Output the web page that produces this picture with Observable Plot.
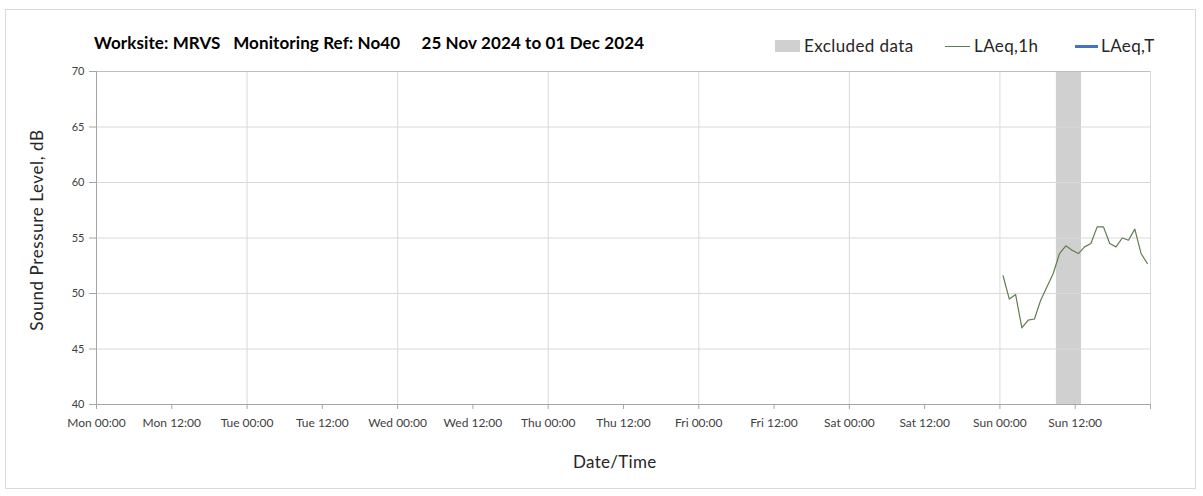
<!DOCTYPE html>
<html>
<head>
<meta charset="utf-8">
<script src="https://cdn.jsdelivr.net/npm/d3@7"></script>
<script src="https://cdn.jsdelivr.net/npm/@observablehq/plot@0.6"></script>
<style>
  html, body { margin: 0; padding: 0; background: #fff; }
  #wrap { position: relative; width: 1203px; height: 496px; overflow: hidden; font-family: Lato, "Open Sans", sans-serif; }
  #frame { position: absolute; left: 5px; top: 9px; width: 1191px; height: 480px; border: 1px solid #d9d9d9; box-sizing: border-box; }
  #title { position: absolute; left: 94px; top: 32px; font-size: 17px; letter-spacing: 0.1px; font-weight: bold; color: #000; white-space: pre; }
  .leg { position: absolute; top: 35px; font-size: 17px; letter-spacing: 0.4px; color: #262626; white-space: nowrap; }
  .sw { position: absolute; }
  #chart { position: absolute; left: 0; top: 0; }
  #xlabel { position: absolute; top: 451px; left: 573px; font-size: 17px; letter-spacing: 0.3px; color: #262626; }
  #ylabel { position: absolute; left: 36px; top: 230px; transform: translate(-50%, -50%) rotate(-90deg); font-size: 17px; letter-spacing: 0.6px; color: #262626; white-space: nowrap; }
</style>
</head>
<body>
<div id="wrap">
  <div id="frame"></div>
  <div id="chart"></div>
  <div id="title"></div>
  <div id="legend"></div>
  <div id="xlabel"></div>
  <div id="ylabel"></div>
</div>
<script>
// ---- data ----
const titleText = "Worksite: MRVS   Monitoring Ref: No40     25 Nov 2024 to 01 Dec 2024";
const xAxisLabel = "Date/Time";
const yAxisLabel = "Sound Pressure Level, dB";
const legendLabels = ["Excluded data", "LAeq,1h", "LAeq,T"];
const periodStart = "2024-11-25T00:00:00Z";
const periodEnd = "2024-12-02T00:00:00Z";
const yTicks = [40, 45, 50, 55, 60, 65, 70];
const hourTimes = [
  "2024-12-01T00:30:00Z", "2024-12-01T01:30:00Z", "2024-12-01T02:30:00Z", "2024-12-01T03:30:00Z",
  "2024-12-01T04:30:00Z", "2024-12-01T05:30:00Z", "2024-12-01T06:30:00Z", "2024-12-01T07:30:00Z",
  "2024-12-01T08:30:00Z", "2024-12-01T09:30:00Z", "2024-12-01T10:30:00Z", "2024-12-01T11:30:00Z",
  "2024-12-01T12:30:00Z", "2024-12-01T13:30:00Z", "2024-12-01T14:30:00Z", "2024-12-01T15:30:00Z",
  "2024-12-01T16:30:00Z", "2024-12-01T17:30:00Z", "2024-12-01T18:30:00Z", "2024-12-01T19:30:00Z",
  "2024-12-01T20:30:00Z", "2024-12-01T21:30:00Z", "2024-12-01T22:30:00Z", "2024-12-01T23:30:00Z"
];
const laeq1h = [51.6, 49.5, 49.9, 46.9, 47.6, 47.7, 49.4, 50.6, 51.8, 53.6, 54.3, 53.9,
                53.6, 54.2, 54.5, 56.0, 56.0, 54.5, 54.2, 55.0, 54.8, 55.8, 53.6, 52.7];
const excludedStart = ["2024-12-01T09:00:00Z"];
const excludedEnd = ["2024-12-01T13:00:00Z"];

// ---- build ----
const lineData = hourTimes.map((t, i) => ({time: new Date(t), value: laeq1h[i]}));
const excluded = excludedStart.map((s, i) => ({start: new Date(s), end: new Date(excludedEnd[i])}));
const x0 = new Date(periodStart), x1 = new Date(periodEnd);
const xTicks = d3.utcHour.every(12).range(x0, new Date(+x1 + 1));
const dayTicks = d3.utcDay.every(1).range(x0, new Date(+x1 + 1));
const fmtTick = d => (+d === +x1) ? "" : d3.utcFormat("%a")(d) + " " + d3.utcFormat("%H:%M")(d);

const font = 'Lato, "Open Sans", sans-serif';
const chart = Plot.plot({
  width: 1203,
  height: 496,
  marginLeft: 96,
  marginRight: 53,
  marginTop: 71,
  marginBottom: 92,
  style: {fontFamily: font, fontSize: "12px", color: "#404040", background: "transparent", overflow: "visible"},
  x: {type: "utc", domain: [x0, x1], label: null},
  y: {domain: [40, 70], label: null},
  marks: [
    Plot.rect(excluded, {x1: "start", x2: "end", fill: "#d0d0d0"}),
    Plot.gridY(yTicks.filter(v => v !== 40 && v !== 70), {stroke: "#d9d9d9", strokeOpacity: 1}),
    Plot.gridX(dayTicks, {stroke: "#d9d9d9", strokeOpacity: 1}),
    Plot.ruleY([70], {stroke: "#bfbfbf"}),
    Plot.ruleX([x0], {stroke: "#a6a6a6"}),
    Plot.ruleY([40], {stroke: "#a6a6a6"}),
    Plot.axisY(yTicks, {tickSize: 7, tickPadding: 5, stroke: "#a6a6a6", fill: "#404040", fontSize: 11, label: null}),
    Plot.axisX(xTicks, {tickSize: 5, tickPadding: 9, stroke: "#a6a6a6", fill: "#404040", tickFormat: fmtTick, label: null}),
    Plot.line(lineData, {x: "time", y: "value", stroke: "#5f7d50", strokeWidth: 1.2})
  ]
});
document.getElementById("chart").appendChild(chart);

document.getElementById("title").textContent = titleText;
document.getElementById("xlabel").textContent = xAxisLabel;
document.getElementById("ylabel").textContent = yAxisLabel;

const legend = document.getElementById("legend");
const legendItems = [
  {label: legendLabels[0], sx: 775, sw: 25, type: "rect", color: "#d0d0d0", tx: 804},
  {label: legendLabels[1], sx: 945, sw: 25, type: "line", color: "#5f7d50", w: 1, tx: 974},
  {label: legendLabels[2], sx: 1075, sw: 23, type: "line", color: "#4472c4", w: 3, tx: 1101}
];
for (const it of legendItems) {
  const s = document.createElement("div");
  s.className = "sw";
  s.style.left = it.sx + "px";
  s.style.width = it.sw + "px";
  s.style.background = it.color;
  if (it.type === "rect") { s.style.top = "40px"; s.style.height = "12px"; }
  else { s.style.top = (46 - it.w / 2) + "px"; s.style.height = it.w + "px"; }
  legend.appendChild(s);
  const t = document.createElement("div");
  t.className = "leg";
  t.style.left = it.tx + "px";
  t.textContent = it.label;
  legend.appendChild(t);
}
</script>
</body>
</html>
